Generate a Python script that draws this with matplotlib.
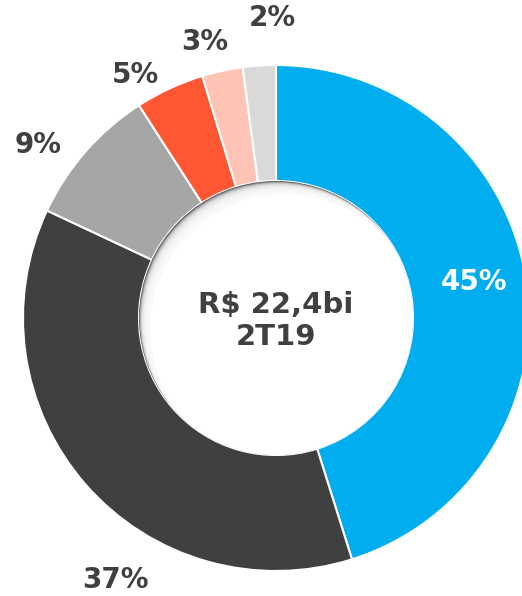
import matplotlib.pyplot as plt
from matplotlib.patches import Circle

# shares (labels are the rounded values shown)
shares = [45.1, 36.8, 8.9, 4.4, 2.6, 2.1]
labels = ['45%', '37%', '9%', '5%', '3%', '2%']
colors = ['#00AEEF', '#404040', '#A6A6A6', '#FF5733', '#FFC4B5', '#D9D9D9']
center_text = 'R$ 22,4bi\n2T19'

txt = '#404040'

fig = plt.figure(figsize=(5.22, 5.96), dpi=100)
ax = fig.add_axes([0, 0, 1, 1])

cx, cy = 276, 278
r_out, r_in = 253, 137

ax.pie(shares, colors=colors, startangle=90, counterclock=False,
       center=(cx, cy), radius=r_out, frame=True,
       wedgeprops=dict(width=r_out - r_in, edgecolor='white', linewidth=1.5))
ax.set_xlim(0, 522)
ax.set_ylim(0, 596)
ax.set_aspect('equal')
ax.axis('off')

# inner shadow of the hole (darker at upper left)
hole = Circle((cx, cy), r_in, color='#555555', lw=0, zorder=3)
ax.add_patch(hole)
for d in [10, 8.5, 7, 6, 5, 4, 3.2, 2.5, 1.8, 1.2, 0.6]:
    c = Circle((cx + d * 0.8, cy - d), r_in, color='white', alpha=0.28, lw=0, zorder=4)
    ax.add_patch(c)
    c.set_clip_path(hole)
c = Circle((cx + 9, cy - 11), r_in - 2, color='white', lw=0, zorder=5)
ax.add_patch(c)
c.set_clip_path(hole)

# percentage labels
lab_pos = [(474, 314), (115, 16), (38, 451), (135, 521), (205, 554), (272, 578)]
for i, ((x, y), s) in enumerate(zip(lab_pos, labels)):
    c = 'white' if i == 0 else txt
    ax.text(x, y, s, ha='center', va='center', fontsize=20, fontweight='bold', color=c, zorder=6)

ax.text(cx, cy - 3, center_text, ha='center', va='center', fontsize=21,
        fontweight='bold', color=txt, linespacing=1.2, zorder=6)

fig.savefig('out.png', dpi=100)
